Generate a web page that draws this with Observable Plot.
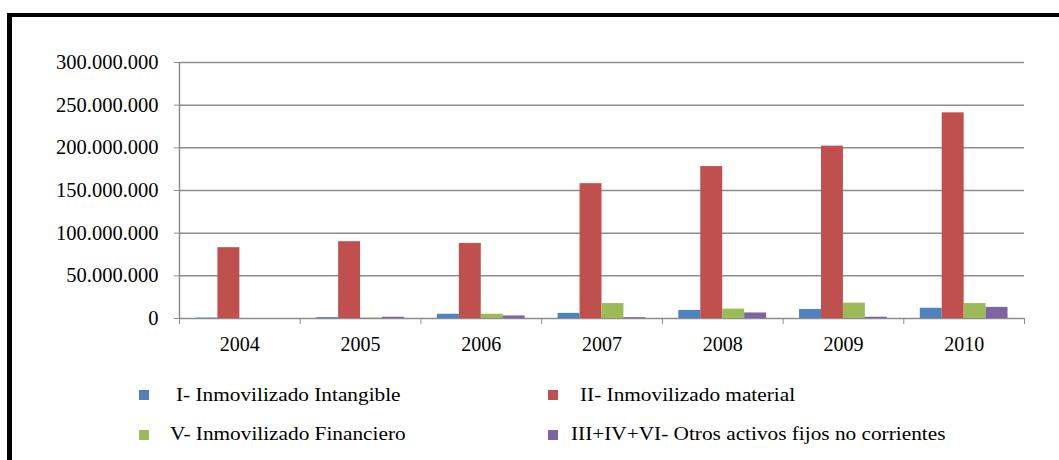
<!DOCTYPE html>
<html>
<head>
<meta charset="utf-8">
<script src="https://cdn.jsdelivr.net/npm/d3@7"></script>
<script src="https://cdn.jsdelivr.net/npm/@observablehq/plot@0.6"></script>
<style>
  html, body { margin: 0; padding: 0; background: #fff; }
  #wrap { position: relative; width: 1059px; height: 460px; overflow: hidden; font-family: "Liberation Serif", "Times New Roman", serif; }
  #chart { position: absolute; left: 0; top: 0; }
  #frame { position: absolute; left: 7px; top: 13px; width: 1052px; height: 447px; box-sizing: border-box;
           border-left: 5px solid #000; border-top: 4px solid #000; pointer-events: none; }
  .lg { position: absolute; font-family: "Liberation Serif", "Times New Roman", serif; font-size: 19px; color: #000;
        white-space: nowrap; line-height: 20px; transform: scaleX(1.12); transform-origin: 0 50%; }
  .sw { position: absolute; width: 10px; height: 10px; }
</style>
</head>
<body>
<div id="wrap">
  <div id="chart"></div>
  <div id="legend"></div>
  <div id="frame"></div>
</div>
<script>
// ---- data ----
const years = [2004, 2005, 2006, 2007, 2008, 2009, 2010];
const seriesNames = [
  "I- Inmovilizado Intangible",
  "II- Inmovilizado material",
  "V- Inmovilizado Financiero",
  "III+IV+VI- Otros activos fijos no corrientes"
];
const intangible = [0.5e6, 1e6, 5e6, 6e6, 9.5e6, 10.5e6, 12e6];
const material   = [83e6, 90e6, 88e6, 158e6, 178e6, 202e6, 241e6];
const financiero = [0, 0.5e6, 5e6, 17.5e6, 11e6, 18e6, 17.5e6];
const otros      = [0, 1.5e6, 3e6, 1e6, 6.5e6, 1.5e6, 13e6];
const yTicks = [0, 50e6, 100e6, 150e6, 200e6, 250e6, 300e6];
const colors = ["#4F81BD", "#C0504D", "#9BBB59", "#8064A2"];

// ---- table ----
const seriesValues = [intangible, material, financiero, otros];
const groupWidth = 0.727;           // fraction of category occupied by the bar group
const barW = groupWidth / seriesValues.length;
const rows = [];
years.forEach((yr, i) => {
  seriesValues.forEach((vals, k) => {
    const x1 = yr - groupWidth / 2 + k * barW;
    rows.push({year: yr, series: seriesNames[k], value: vals[i], x1, x2: x1 + barW});
  });
});
const boundaries = [years[0] - 0.5, ...years.map(y => y + 0.5)];

const loc = d3.formatLocale({decimal: ",", thousands: ".", grouping: [3], currency: ["", "€"]});
const fmt = loc.format(",d");
const gridColor = "#8c8c8c";

const plot = Plot.plot({
  width: 1059,
  height: 360,
  marginLeft: 179,
  marginRight: 35,
  marginTop: 62,
  marginBottom: 42,
  style: {fontFamily: "'Liberation Serif', 'Times New Roman', serif", fontSize: "20px", background: "none", color: "#000"},
  x: {domain: [boundaries[0], boundaries[boundaries.length - 1]]},
  y: {domain: [0, 300e6]},
  color: {domain: seriesNames, range: colors},
  marks: [
    Plot.ruleY(yTicks, {stroke: gridColor, strokeWidth: 1.5}),
    Plot.ruleX([boundaries[0]], {y1: 0, y2: 300e6, stroke: gridColor, strokeWidth: 1.5}),
    Plot.rectY(rows, {x1: "x1", x2: "x2", y: "value", fill: "series"}),
    Plot.axisY({ticks: yTicks, tickSize: 5, tickPadding: 16, tickFormat: fmt, stroke: gridColor, fill: "#000", fontSize: 20.5, label: null}),
    Plot.axisX({ticks: boundaries, tickSize: 6, tickFormat: () => "", stroke: gridColor, label: null}),
    Plot.axisX({ticks: years, tickSize: 0, tickPadding: 18, tickFormat: d => String(d), fill: "#000", fontSize: 20, label: null})
  ]
});
document.getElementById("chart").appendChild(plot);

// ---- legend ----
const legendPos = [
  {sw: [139, 390], tx: [176, 385]},
  {sw: [548, 390], tx: [580, 385]},
  {sw: [139, 430], tx: [170, 424]},
  {sw: [548, 430], tx: [571, 424]}
];
const lg = document.getElementById("legend");
seriesNames.forEach((name, k) => {
  const p = legendPos[k];
  const s = document.createElement("div");
  s.className = "sw";
  s.style.left = p.sw[0] + "px"; s.style.top = p.sw[1] + "px"; s.style.background = colors[k];
  lg.appendChild(s);
  const t = document.createElement("div");
  t.className = "lg";
  t.style.left = p.tx[0] + "px"; t.style.top = p.tx[1] + "px";
  t.textContent = name;
  lg.appendChild(t);
});
</script>
</body>
</html>
